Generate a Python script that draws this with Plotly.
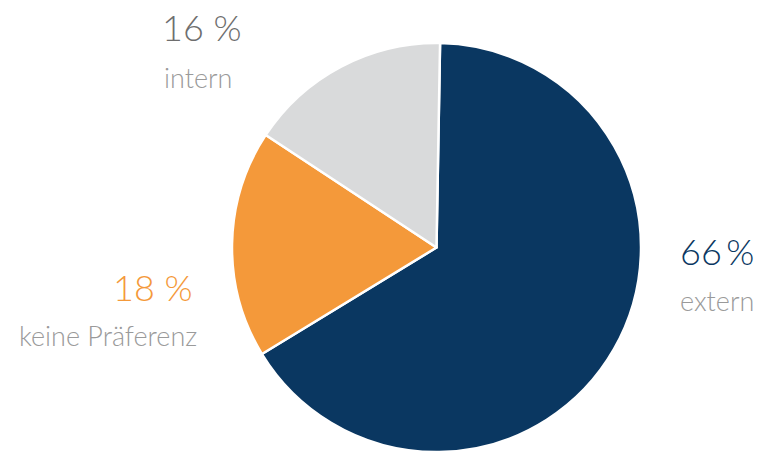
import plotly.graph_objects as go

labels = ["extern", "keine Präferenz", "intern"]
values = [66, 18, 16]
colors = ["#0a3761", "#f4993a", "#d9dadb"]
pct_colors = ["#0a3761", "#f4993a", "#6e6e6e"]
pct_text = ["66\u2009%", "18 %", "16 %"]

W, H = 757, 452
fig = go.Figure(go.Pie(
    labels=labels, values=values, sort=False, direction="clockwise", rotation=1,
    marker=dict(colors=colors, line=dict(color="white", width=2.5)),
    textinfo="none", hoverinfo="label+percent", showlegend=False,
    domain=dict(x=[232 / W, 641 / W], y=[0, 409 / H]),
))

pct_font = "Lato, 'Open Sans', sans-serif"
lab_font = "Lato, 'Open Sans', sans-serif"
# (x, y_from_top, xanchor) for percent and label
pos = {
    "extern": ((678, 251, "left"), (678, 300, "left")),
    "keine Präferenz": ((195, 287, "right"), (199, 335, "right")),
    "intern": ((202, 27, "center"), (198, 78, "center")),
}
for lab, pt, pc in zip(labels, pct_text, pct_colors):
    (px, py, pa), (lx, ly, la) = pos[lab]
    fig.add_annotation(x=px / W, y=1 - py / H, xref="paper", yref="paper",
                       text=pt, showarrow=False, xanchor=pa, yanchor="middle",
                       font=dict(family=pct_font, size=36, color=pc, weight=300))
    fig.add_annotation(x=lx / W, y=1 - ly / H, xref="paper", yref="paper",
                       text=lab, showarrow=False, xanchor=la, yanchor="middle",
                       font=dict(family=lab_font, size=27, color="#9a9a9a", weight=300))

fig.update_layout(width=W, height=H, margin=dict(l=0, r=0, t=0, b=0),
                  paper_bgcolor="white", plot_bgcolor="white")
fig.write_html("out.html", config={"displayModeBar": False},
               post_script="document.body.style.margin='0';document.body.style.overflow='hidden';")
